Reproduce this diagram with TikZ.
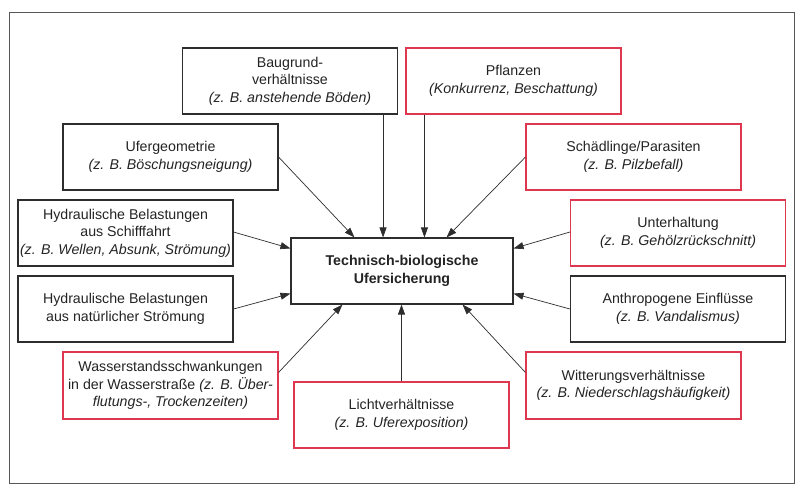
\documentclass[tikz,border=0pt]{standalone}
\usepackage{fontspec}
\setmainfont{Liberation Sans}
\usetikzlibrary{arrows.meta}
\definecolor{txt}{RGB}{35,35,35}
\definecolor{bk}{RGB}{45,45,45}
\definecolor{rd}{RGB}{222,55,80}
\tikzset{
  box/.style={draw=bk, line width=1.1pt, minimum width=215pt, minimum height=66pt,
    inner xsep=2pt, align=center, text=txt, font=\fontsize{14.2}{17.6}\selectfont},
  rbox/.style={box, draw=rd},
  arr/.style={draw=bk, line width=0.7pt, -{Triangle[length=10pt,width=7pt]}},
}
\begin{document}
\begin{tikzpicture}[x=1pt,y=-1pt]
\useasboundingbox (0,0) rectangle (800,490);
\draw[draw=bk!80, line width=1pt] (9,12) rectangle (794,483);
\node[box, minimum width=222pt, font=\bfseries\fontsize{14.2}{18.5}\selectfont] (c) at (402,271) {Technisch-biologische\\Ufersicherung};
\node[box] (bg) at (290,81) {Baugrund-\\verhältnisse\\\textit{(z. B. anstehende Böden)}};
\node[rbox] (pf) at (513.5,81) {Pflanzen\\\textit{(Konkurrenz, Beschattung)}};
\node[box] (uf) at (170.5,157) {Ufergeometrie\\\textit{(z. B. Böschungsneigung)}};
\node[rbox] (sp) at (633.5,157) {Schädlinge/Parasiten\\\textit{(z. B. Pilzbefall)}};
\node[box] (hs) at (125.5,233) {Hydraulische Belastungen\\aus Schifffahrt\\\textit{(z. B. Wellen, Absunk, Strömung)}};
\node[rbox] (ut) at (678,233) {Unterhaltung\\\textit{(z. B. Gehölzrückschnitt)}};
\node[box] (hn) at (125.5,309) {Hydraulische Belastungen\\aus natürlicher Strömung};
\node[box] (an) at (678,309) {Anthropogene Einflüsse\\\textit{(z. B. Vandalismus)}};
\node[rbox, minimum height=67pt] (ws) at (170.5,385.5) {Wasserstandsschwankungen\\in der Wasserstraße \textit{(z. B. Über-}\\\textit{flutungs-, Trockenzeiten)}};
\node[rbox, minimum height=67pt] (wi) at (633.5,385.5) {Witterungsverhältnisse\\\textit{(z. B. Niederschlagshäufigkeit)}};
\node[rbox] (li) at (401.5,415) {Lichtverhältnisse\\\textit{(z. B. Uferexposition)}};
% arrows
\draw[arr] ([xshift=-15pt]bg.south east) -- ([xshift=-15pt]bg.south east |- c.north);
\draw[arr] ([xshift=19pt]pf.south west) -- ([xshift=19pt]pf.south west |- c.north);
\draw[arr] (uf.east) -- ([xshift=64pt]c.north west);
\draw[arr] (sp.west) -- ([xshift=-67pt]c.north east);
\draw[arr] ([yshift=1pt]hs.east) -- ([yshift=-11pt]c.north west);
\draw[arr] ([yshift=1pt]ut.west) -- ([yshift=-11pt]c.north east);
\draw[arr] (hn.east) -- ([yshift=11pt]c.south west);
\draw[arr] (an.west) -- ([yshift=11pt]c.south east);
\draw[arr] ([yshift=13pt]ws.east) -- ([xshift=52pt]c.south west);
\draw[arr] ([yshift=13pt]wi.west) -- ([xshift=-51pt]c.south east);
\draw[arr] (li.north) -- (li.north |- c.south);
\end{tikzpicture}
\end{document}
